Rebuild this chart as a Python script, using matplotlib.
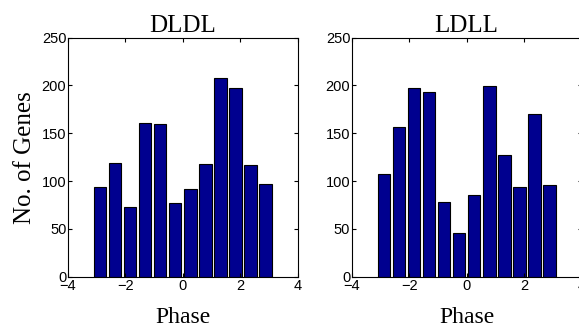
import numpy as np
import matplotlib
matplotlib.use("Agg")
import matplotlib.pyplot as plt

titles = ["DLDL", "LDLL"]
n_bins = 12
dldl = [94, 119, 73, 161, 160, 77, 92, 118, 208, 197, 117, 97]
ldll = [107, 157, 197, 193, 78, 46, 85, 199, 127, 94, 170, 96]
series = [dldl, ldll]
xticks = [-4, -2, 0, 2, 4]
yticks = [0, 50, 100, 150, 200, 250]

edges = np.linspace(-np.pi, np.pi, n_bins + 1)
centers = (edges[:-1] + edges[1:]) / 2
bw = (edges[1] - edges[0]) * 0.84

fig = plt.figure(figsize=(5.79, 3.32), dpi=100)
positions = [[0.117, 0.1666, 0.397, 0.72], [0.6074, 0.1666, 0.397, 0.72]]
tick_font = {"family": "Liberation Sans", "size": 10.5}
serif = "Liberation Serif"

for i, (pos, vals, title) in enumerate(zip(positions, series, titles)):
    ax = fig.add_axes(pos)
    ax.bar(centers, vals, width=bw, color="#00008f", edgecolor="black", linewidth=0.8)
    ax.set_xlim(-4, 4)
    ax.set_ylim(0, 250)
    ax.set_xticks(xticks)
    ax.set_yticks(yticks)
    ax.set_xticklabels(["\u22124", "\u22122", "0", "2", "4"], fontdict=tick_font)
    ax.set_yticklabels([str(v) for v in yticks], fontdict=tick_font)
    ax.tick_params(direction="in", top=True, right=True, length=3, width=0.8, pad=2)
    ax.tick_params(axis="y", pad=1)
    for s in ax.spines.values():
        s.set_linewidth(0.8)
    ax.set_title(title, fontfamily=serif, fontsize=18, pad=4)
    ax.set_xlabel("Phase", fontfamily=serif, fontsize=17, labelpad=10)
    if i == 0:
        ax.set_ylabel("No. of Genes", fontfamily=serif, fontsize=18, labelpad=4)

fig.savefig("out.png", dpi=100)
